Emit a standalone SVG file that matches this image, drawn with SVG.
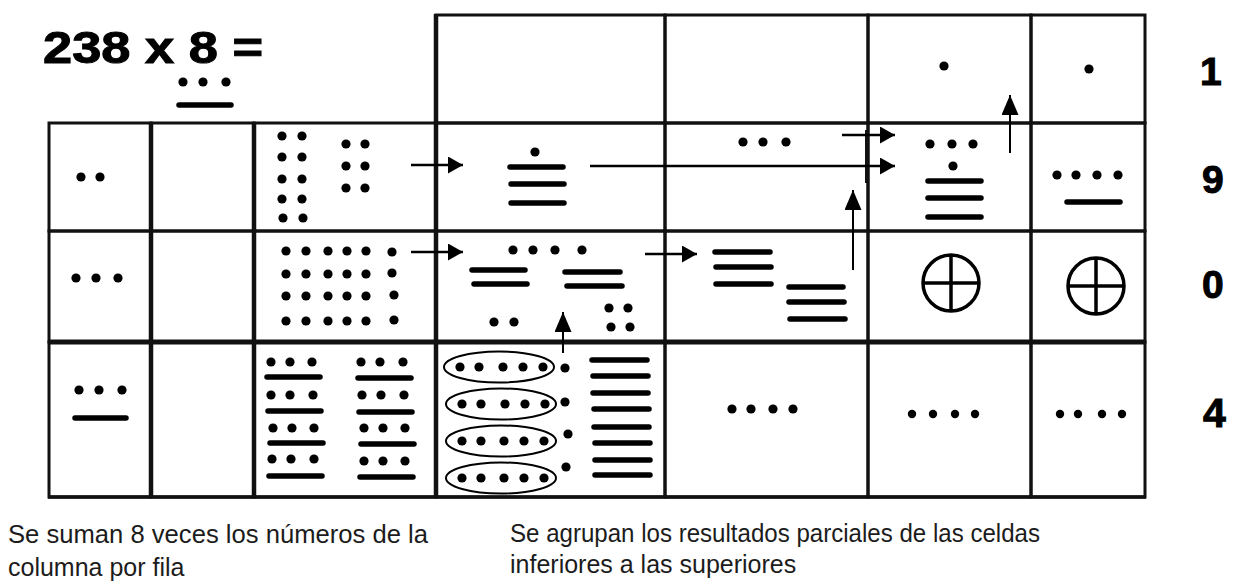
<svg xmlns="http://www.w3.org/2000/svg" width="1237" height="586" viewBox="0 0 1237 586">
<style>
.cell{fill:none;stroke:#111;stroke-width:3}
.heavy{stroke:#111;fill:none}
.d{fill:#000}
.b{stroke:#000;stroke-width:5.5;stroke-linecap:round}
.ov{fill:none;stroke:#000;stroke-width:2}
.zero{fill:none;stroke:#000;stroke-width:3.5}
.arr{stroke:#000;stroke-width:2.5;fill:none}
.up{stroke:#000;stroke-width:2;fill:none}
.num{font-family:"Liberation Sans",Arial,sans-serif;font-weight:bold;fill:#000;stroke:#000;stroke-width:1}
.note{font-family:"Liberation Sans",Arial,sans-serif;font-size:25px;fill:#1c1c1c}
</style>
<defs>
<marker id="ah" viewBox="0 0 15 17" refX="15" refY="8.5" markerWidth="15" markerHeight="17" markerUnits="userSpaceOnUse" orient="auto"><path d="M0,0 L15,8.5 L0,17 z" fill="#000"/></marker>
<marker id="av" viewBox="0 0 20 17" refX="20" refY="8.5" markerWidth="20" markerHeight="17" markerUnits="userSpaceOnUse" orient="auto"><path d="M0,0 L20,8.5 L0,17 z" fill="#000"/></marker>
</defs>
<rect width="1237" height="586" fill="#fff"/>

<g id="title">
<text class="num" x="43" y="63" font-size="44" textLength="220" lengthAdjust="spacingAndGlyphs">238 x 8 =</text>
<circle class="d" cx="183" cy="82" r="4.6"/><circle class="d" cx="203" cy="82" r="4.6"/><circle class="d" cx="226" cy="82" r="4.6"/>
<line class="b" x1="179" y1="105" x2="231" y2="105"/>
</g>

<g id="r0c4"><rect class="cell" x="436" y="15" width="229" height="108"/></g>
<g id="r0c5"><rect class="cell" x="665" y="15" width="203" height="108"/></g>
<g id="r0c6"><rect class="cell" x="868" y="15" width="163" height="108"/><circle class="d" cx="944" cy="66" r="4.6"/></g>
<g id="r0c7"><rect class="cell" x="1031" y="15" width="114" height="108"/><circle class="d" cx="1089" cy="69" r="4.6"/></g>

<g id="r1c1"><rect class="cell" x="49" y="123" width="102" height="108"/>
<circle class="d" cx="81" cy="177" r="4.6"/><circle class="d" cx="100" cy="177" r="4.6"/></g>
<g id="r1c2"><rect class="cell" x="151" y="123" width="103" height="108"/></g>
<g id="r1c3"><rect class="cell" x="254" y="123" width="182" height="108"/>
<circle class="d" cx="282" cy="136" r="4.6"/><circle class="d" cx="302" cy="136" r="4.6"/>
<circle class="d" cx="282" cy="157" r="4.6"/><circle class="d" cx="302" cy="157" r="4.6"/>
<circle class="d" cx="282" cy="179" r="4.6"/><circle class="d" cx="302" cy="179" r="4.6"/>
<circle class="d" cx="282" cy="199" r="4.6"/><circle class="d" cx="302" cy="199" r="4.6"/>
<circle class="d" cx="283" cy="218" r="4.6"/><circle class="d" cx="303" cy="218" r="4.6"/>
<circle class="d" cx="346" cy="144" r="4.6"/><circle class="d" cx="365" cy="144" r="4.6"/>
<circle class="d" cx="346" cy="166" r="4.6"/><circle class="d" cx="365" cy="166" r="4.6"/>
<circle class="d" cx="346" cy="188" r="4.6"/><circle class="d" cx="365" cy="188" r="4.6"/>
</g>
<g id="r1c4"><rect class="cell" x="436" y="123" width="229" height="108"/>
<circle class="d" cx="535" cy="152" r="4.6"/>
<line class="b" x1="510" y1="167" x2="563" y2="167"/>
<line class="b" x1="511" y1="184" x2="564" y2="184"/>
<line class="b" x1="511" y1="203" x2="564" y2="203"/>
</g>
<g id="r1c5"><rect class="cell" x="665" y="123" width="203" height="108"/>
<circle class="d" cx="743" cy="142" r="4.6"/><circle class="d" cx="763" cy="142" r="4.6"/><circle class="d" cx="786" cy="142" r="4.6"/>
</g>
<g id="r1c6"><rect class="cell" x="868" y="123" width="163" height="108"/>
<circle class="d" cx="930" cy="144" r="4.6"/><circle class="d" cx="952" cy="144" r="4.6"/><circle class="d" cx="973" cy="144" r="4.6"/>
<circle class="d" cx="953" cy="166" r="4.6"/>
<line class="b" x1="928" y1="181" x2="981" y2="181"/>
<line class="b" x1="928" y1="198" x2="981" y2="198"/>
<line class="b" x1="928" y1="217" x2="981" y2="217"/>
</g>
<g id="r1c7"><rect class="cell" x="1031" y="123" width="114" height="108"/>
<circle class="d" cx="1057" cy="175" r="4.6"/><circle class="d" cx="1076" cy="175" r="4.6"/><circle class="d" cx="1097" cy="175" r="4.6"/><circle class="d" cx="1118" cy="175" r="4.6"/>
<line class="b" x1="1067" y1="202" x2="1120" y2="202"/>
</g>

<g id="r2c1"><rect class="cell" x="49" y="231" width="102" height="111"/>
<circle class="d" cx="76" cy="278" r="4.6"/><circle class="d" cx="96" cy="278" r="4.6"/><circle class="d" cx="118" cy="278" r="4.6"/></g>
<g id="r2c2"><rect class="cell" x="151" y="231" width="103" height="111"/></g>
<g id="r2c3"><rect class="cell" x="254" y="231" width="182" height="111"/>
<circle class="d" cx="286" cy="251" r="4.6"/><circle class="d" cx="306" cy="251" r="4.6"/><circle class="d" cx="328" cy="251" r="4.6"/><circle class="d" cx="347" cy="251" r="4.6"/><circle class="d" cx="366" cy="251" r="4.6"/><circle class="d" cx="392" cy="252" r="4.6"/>
<circle class="d" cx="286" cy="274" r="4.6"/><circle class="d" cx="306" cy="274" r="4.6"/><circle class="d" cx="328" cy="274" r="4.6"/><circle class="d" cx="347" cy="274" r="4.6"/><circle class="d" cx="366" cy="274" r="4.6"/><circle class="d" cx="392" cy="273" r="4.6"/>
<circle class="d" cx="286" cy="296" r="4.6"/><circle class="d" cx="306" cy="296" r="4.6"/><circle class="d" cx="328" cy="296" r="4.6"/><circle class="d" cx="347" cy="296" r="4.6"/><circle class="d" cx="366" cy="296" r="4.6"/><circle class="d" cx="394" cy="295" r="4.6"/>
<circle class="d" cx="286" cy="321" r="4.6"/><circle class="d" cx="306" cy="321" r="4.6"/><circle class="d" cx="328" cy="321" r="4.6"/><circle class="d" cx="347" cy="321" r="4.6"/><circle class="d" cx="366" cy="321" r="4.6"/><circle class="d" cx="394" cy="320" r="4.6"/>
</g>
<g id="r2c4"><rect class="cell" x="436" y="231" width="229" height="111"/>
<circle class="d" cx="513" cy="250" r="4.6"/><circle class="d" cx="533" cy="250" r="4.6"/><circle class="d" cx="555" cy="250" r="4.6"/><circle class="d" cx="582" cy="250" r="4.6"/>
<line class="b" x1="472" y1="270" x2="525" y2="270"/>
<line class="b" x1="474" y1="284" x2="527" y2="284"/>
<line class="b" x1="565" y1="272" x2="620" y2="272"/>
<line class="b" x1="567" y1="286" x2="622" y2="286"/>
<circle class="d" cx="494" cy="322" r="4.6"/><circle class="d" cx="514" cy="322" r="4.6"/>
<circle class="d" cx="609" cy="308" r="4.6"/><circle class="d" cx="628" cy="308" r="4.6"/>
<circle class="d" cx="611" cy="327" r="4.6"/><circle class="d" cx="630" cy="327" r="4.6"/>
</g>
<g id="r2c5"><rect class="cell" x="665" y="231" width="203" height="111"/>
<line class="b" x1="715" y1="252" x2="770" y2="252"/>
<line class="b" x1="716" y1="267" x2="771" y2="267"/>
<line class="b" x1="716" y1="284" x2="771" y2="284"/>
<line class="b" x1="789" y1="287" x2="843" y2="287"/>
<line class="b" x1="789" y1="302" x2="844" y2="302"/>
<line class="b" x1="790" y1="319" x2="845" y2="319"/>
</g>
<g id="r2c6"><rect class="cell" x="868" y="231" width="163" height="111"/>
<circle class="zero" cx="951" cy="283" r="28"/>
<line class="zero" x1="923" y1="283" x2="979" y2="283"/><line class="zero" x1="951" y1="255" x2="951" y2="311"/>
</g>
<g id="r2c7"><rect class="cell" x="1031" y="231" width="114" height="111"/>
<circle class="zero" cx="1096" cy="286" r="28"/>
<line class="zero" x1="1068" y1="286" x2="1124" y2="286"/><line class="zero" x1="1096" y1="258" x2="1096" y2="314"/>
</g>

<g id="r3c1"><rect class="cell" x="49" y="342" width="102" height="155"/>
<circle class="d" cx="79" cy="390" r="4.6"/><circle class="d" cx="99" cy="390" r="4.6"/><circle class="d" cx="122" cy="390" r="4.6"/>
<line class="b" x1="75" y1="418" x2="126" y2="418"/>
</g>
<g id="r3c2"><rect class="cell" x="151" y="342" width="103" height="155"/></g>
<g id="r3c3"><rect class="cell" x="254" y="342" width="182" height="155"/>
<circle class="d" cx="271" cy="362" r="4.6"/><circle class="d" cx="290" cy="362" r="4.6"/><circle class="d" cx="312" cy="362" r="4.6"/>
<line class="b" x1="267" y1="377" x2="320" y2="377"/>
<circle class="d" cx="271" cy="395" r="4.6"/><circle class="d" cx="290" cy="395" r="4.6"/><circle class="d" cx="313" cy="395" r="4.6"/>
<line class="b" x1="268" y1="411" x2="321" y2="411"/>
<circle class="d" cx="273" cy="428" r="4.6"/><circle class="d" cx="292" cy="428" r="4.6"/><circle class="d" cx="314" cy="428" r="4.6"/>
<line class="b" x1="270" y1="443" x2="323" y2="443"/>
<circle class="d" cx="272" cy="459" r="4.6"/><circle class="d" cx="291" cy="459" r="4.6"/><circle class="d" cx="314" cy="459" r="4.6"/>
<line class="b" x1="269" y1="476" x2="322" y2="476"/>
<circle class="d" cx="361" cy="362" r="4.6"/><circle class="d" cx="380" cy="362" r="4.6"/><circle class="d" cx="403" cy="362" r="4.6"/>
<line class="b" x1="358" y1="378" x2="411" y2="378"/>
<circle class="d" cx="362" cy="395" r="4.6"/><circle class="d" cx="381" cy="395" r="4.6"/><circle class="d" cx="404" cy="395" r="4.6"/>
<line class="b" x1="359" y1="412" x2="412" y2="412"/>
<circle class="d" cx="364" cy="428" r="4.6"/><circle class="d" cx="383" cy="428" r="4.6"/><circle class="d" cx="405" cy="428" r="4.6"/>
<line class="b" x1="361" y1="444" x2="414" y2="444"/>
<circle class="d" cx="364" cy="461" r="4.6"/><circle class="d" cx="383" cy="461" r="4.6"/><circle class="d" cx="405" cy="461" r="4.6"/>
<line class="b" x1="360" y1="477" x2="413" y2="477"/>
</g>
<g id="r3c4"><rect class="cell" x="436" y="342" width="229" height="155"/>
<ellipse class="ov" cx="499" cy="367" rx="55" ry="15.5"/>
<ellipse class="ov" cx="501" cy="404" rx="55" ry="15.5"/>
<ellipse class="ov" cx="501" cy="441" rx="55" ry="15.5"/>
<ellipse class="ov" cx="501" cy="478" rx="55" ry="15.5"/>
<circle class="d" cx="460" cy="367" r="4.6"/><circle class="d" cx="479" cy="367" r="4.6"/><circle class="d" cx="503" cy="367" r="4.6"/><circle class="d" cx="523" cy="367" r="4.6"/><circle class="d" cx="543" cy="367" r="4.6"/>
<circle class="d" cx="462" cy="404" r="4.6"/><circle class="d" cx="481" cy="404" r="4.6"/><circle class="d" cx="505" cy="404" r="4.6"/><circle class="d" cx="525" cy="404" r="4.6"/><circle class="d" cx="545" cy="404" r="4.6"/>
<circle class="d" cx="462" cy="441" r="4.6"/><circle class="d" cx="481" cy="441" r="4.6"/><circle class="d" cx="504" cy="441" r="4.6"/><circle class="d" cx="524" cy="441" r="4.6"/><circle class="d" cx="544" cy="441" r="4.6"/>
<circle class="d" cx="462" cy="478" r="4.6"/><circle class="d" cx="481" cy="478" r="4.6"/><circle class="d" cx="504" cy="478" r="4.6"/><circle class="d" cx="524" cy="478" r="4.6"/><circle class="d" cx="544" cy="478" r="4.6"/>
<circle class="d" cx="565" cy="368" r="4.6"/><circle class="d" cx="565" cy="402" r="4.6"/><circle class="d" cx="568" cy="434" r="4.6"/><circle class="d" cx="566" cy="467" r="4.6"/>
<line class="b" x1="592" y1="360" x2="647" y2="360"/>
<line class="b" x1="593" y1="376" x2="648" y2="376"/>
<line class="b" x1="593" y1="393" x2="648" y2="393"/>
<line class="b" x1="594" y1="409" x2="649" y2="409"/>
<line class="b" x1="594" y1="427" x2="649" y2="427"/>
<line class="b" x1="595" y1="443" x2="650" y2="443"/>
<line class="b" x1="595" y1="460" x2="650" y2="460"/>
<line class="b" x1="595" y1="475" x2="650" y2="475"/>
</g>
<g id="r3c5"><rect class="cell" x="665" y="342" width="203" height="155"/>
<circle class="d" cx="732" cy="409" r="4.6"/><circle class="d" cx="751" cy="409" r="4.6"/><circle class="d" cx="773" cy="409" r="4.6"/><circle class="d" cx="793" cy="409" r="4.6"/>
</g>
<g id="r3c6"><rect class="cell" x="868" y="342" width="163" height="155"/>
<circle class="d" cx="912" cy="414" r="4.2"/><circle class="d" cx="933" cy="414" r="4.2"/><circle class="d" cx="955" cy="414" r="4.2"/><circle class="d" cx="975" cy="414" r="4.2"/>
</g>
<g id="r3c7"><rect class="cell" x="1031" y="342" width="114" height="155"/>
<circle class="d" cx="1060" cy="414" r="4.2"/><circle class="d" cx="1078" cy="414" r="4.2"/><circle class="d" cx="1102" cy="414" r="4.2"/><circle class="d" cx="1122" cy="414" r="4.2"/>
</g>

<g id="heavy-lines">
<line class="heavy" x1="151" y1="122" x2="151" y2="498" stroke-width="4.5"/>
<line class="heavy" x1="254" y1="122" x2="254" y2="498" stroke-width="4.5"/>
<line class="heavy" x1="436" y1="14" x2="436" y2="498" stroke-width="4.5"/>
<line class="heavy" x1="48" y1="342" x2="1146" y2="342" stroke-width="5"/>
<line class="heavy" x1="48" y1="497" x2="1146" y2="497" stroke-width="3.5"/>
<line class="heavy" x1="867" y1="130" x2="867" y2="183" stroke-width="4"/>
</g>

<g id="row-values">
<text class="num" x="1200" y="85" font-size="39">1</text>
<text class="num" x="1202" y="193" font-size="39">9</text>
<text class="num" x="1202" y="298" font-size="39">0</text>
<text class="num" x="1203" y="427" font-size="41">4</text>
</g>

<g id="connectors">
<line class="arr" x1="411" y1="165" x2="463" y2="165" marker-end="url(#ah)"/>
<line class="arr" x1="411" y1="252" x2="463" y2="252" marker-end="url(#ah)"/>
<line class="arr" x1="590" y1="166" x2="895" y2="166" marker-end="url(#ah)"/>
<line class="arr" x1="842" y1="135" x2="895" y2="135" marker-end="url(#ah)"/>
<line class="arr" x1="645" y1="254" x2="697" y2="254" marker-end="url(#ah)"/>
<line class="up" x1="563" y1="353" x2="563" y2="312" marker-end="url(#av)"/>
<line class="up" x1="853" y1="270" x2="853" y2="190" marker-end="url(#av)"/>
<line class="up" x1="1010" y1="153" x2="1010" y2="95" marker-end="url(#av)"/>
</g>

<g id="notes">
<text class="note" x="8" y="543" textLength="420" lengthAdjust="spacingAndGlyphs">Se suman 8 veces los números de la</text>
<text class="note" x="8" y="576">columna por fila</text>
<text class="note" x="510" y="542" textLength="530" lengthAdjust="spacingAndGlyphs">Se agrupan los resultados parciales de las celdas</text>
<text class="note" x="510" y="573">inferiores a las superiores</text>
</g>
</svg>
